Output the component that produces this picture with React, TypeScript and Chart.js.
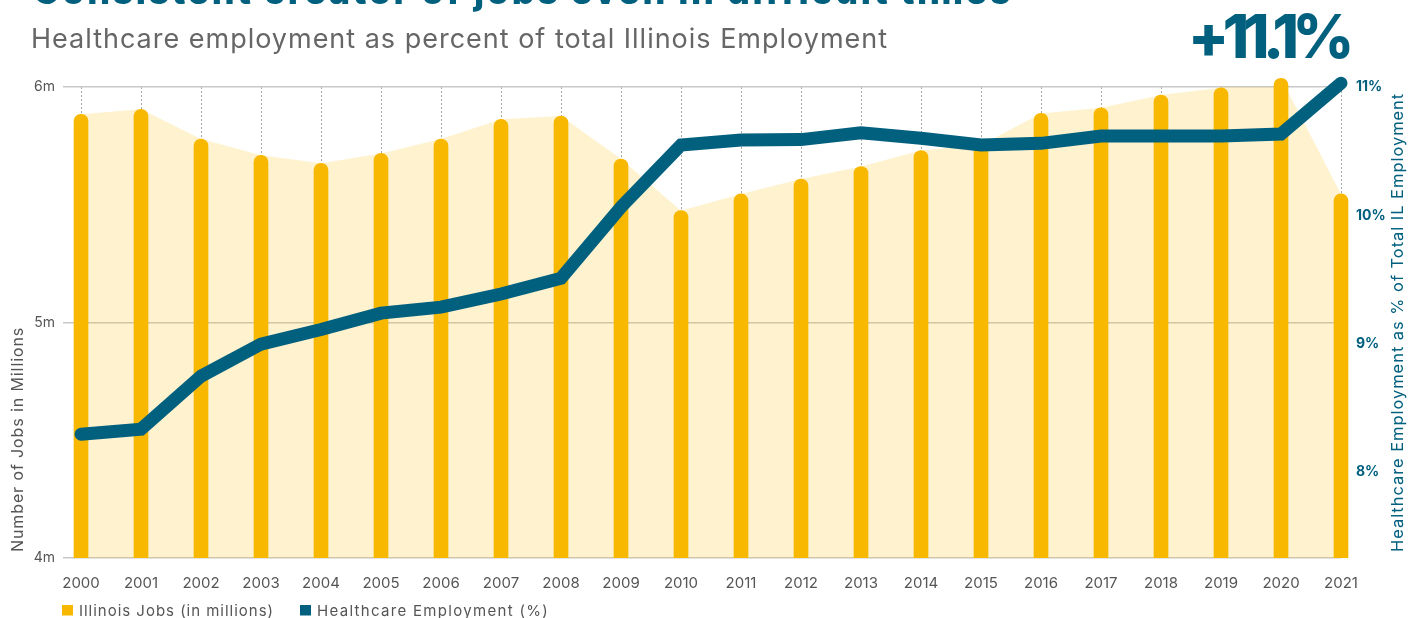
import React, { useEffect, useRef } from "react";
import { Chart, registerables } from "chart.js";

Chart.register(...registerables);

// ---- data ----
const years = [
  "2000", "2001", "2002", "2003", "2004", "2005", "2006", "2007", "2008", "2009", "2010",
  "2011", "2012", "2013", "2014", "2015", "2016", "2017", "2018", "2019", "2020", "2021",
];
const illinoisJobs = [
  5.884, 5.905, 5.779, 5.71, 5.676, 5.718, 5.779, 5.863, 5.877, 5.694, 5.475,
  5.546, 5.609, 5.662, 5.73, 5.754, 5.888, 5.912, 5.966, 5.997, 6.037, 5.546,
];
const healthcareShare = [
  8.295, 8.334, 8.747, 8.997, 9.11, 9.238, 9.285, 9.387, 9.51, 10.065, 10.548,
  10.587, 10.59, 10.644, 10.6, 10.548, 10.561, 10.618, 10.618, 10.618, 10.634, 11.03,
];
const jobsTicks = [4, 5, 6];
const shareTicks = [8, 9, 10, 11];

const TITLE = "Consistent creator of jobs even in difficult times";
const SUBTITLE = "Healthcare employment as percent of total Illinois Employment";
const CALLOUT = "+11.1%";
const LEFT_TITLE = "Number of Jobs in Millions";
const RIGHT_TITLE = "Healthcare Employment as % of Total IL Employment";
const JOBS_LABEL = "Illinois Jobs (in millions)";
const SHARE_LABEL = "Healthcare Employment (%)";

// ---- styles ----
const TEAL = "#02607F";
const YELLOW = "#F9B800";
const AREA = "rgba(249,184,0,0.19)";
const FONT = "Inter, 'Open Sans', sans-serif";

function fitText(
  ctx: CanvasRenderingContext2D,
  text: string,
  x: number,
  y: number,
  font: string,
  color: string,
  width: number,
  rotate = false,
  baseline: CanvasTextBaseline = "alphabetic"
) {
  ctx.save();
  ctx.font = font;
  (ctx as any).letterSpacing = "0px";
  const w = ctx.measureText(text).width;
  const ls = (width - w) / text.length;
  (ctx as any).letterSpacing = ls.toFixed(2) + "px";
  ctx.fillStyle = color;
  ctx.textAlign = "left";
  ctx.textBaseline = baseline;
  ctx.translate(x, y);
  if (rotate) ctx.rotate(-Math.PI / 2);
  ctx.fillText(text, 0, 0);
  ctx.restore();
}

const decorations = {
  id: "decorations",
  afterDraw(chart: any) {
    const ctx: CanvasRenderingContext2D = chart.ctx;
    fitText(ctx, TITLE, 33, 4, `800 36px ${FONT}`, TEAL, 980);
    fitText(ctx, SUBTITLE, 31, 47.5, `400 27px ${FONT}`, "#666666", 857);
    fitText(ctx, CALLOUT, 1188, 58, `800 60px ${FONT}`, TEAL, 160);
    fitText(ctx, LEFT_TITLE, 18, 552, `400 16px ${FONT}`, "#555555", 225, true, "middle");
    fitText(ctx, RIGHT_TITLE, 1398, 552, `400 16.5px ${FONT}`, TEAL, 459, true, "middle");

    // legend
    const ds = chart.data.datasets;
    ctx.save();
    ctx.fillStyle = ds[1].backgroundColor;
    ctx.fillRect(62, 605, 11, 10.5);
    ctx.fillStyle = ds[0].borderColor;
    ctx.fillRect(300, 605, 11, 10.5);
    ctx.restore();
    fitText(ctx, ds[1].label, 79, 615.5, `400 15px ${FONT}`, "#555555", 195);
    fitText(ctx, ds[0].label, 317, 615.5, `400 15px ${FONT}`, "#555555", 232);
  },
};

export default function App() {
  const ref = useRef<HTMLCanvasElement>(null);

  useEffect(() => {
    if (!ref.current) return;
    const chart = new Chart(ref.current, {
      type: "bar",
      data: {
        labels: years,
        datasets: [
          {
            type: "line",
            label: SHARE_LABEL,
            data: healthcareShare,
            yAxisID: "yShare",
            borderColor: TEAL,
            backgroundColor: TEAL,
            borderWidth: 13,
            borderCapStyle: "round",
            borderJoinStyle: "miter",
            pointRadius: 0,
            tension: 0,
            fill: false,
            clip: false,
            order: 0,
          } as any,
          {
            type: "bar",
            label: JOBS_LABEL,
            data: illinoisJobs,
            yAxisID: "yJobs",
            backgroundColor: YELLOW,
            barThickness: 14,
            borderRadius: { topLeft: 7, topRight: 7, bottomLeft: 0, bottomRight: 0 },
            borderSkipped: "start",
            clip: { left: false, top: false, right: false, bottom: 0 },
            order: 1,
          } as any,
          {
            type: "line",
            label: "area",
            data: illinoisJobs,
            yAxisID: "yJobs",
            backgroundColor: AREA,
            borderWidth: 0,
            pointRadius: 0,
            tension: 0,
            fill: "start",
            order: 2,
          } as any,
        ],
      },
      options: {
        animation: false,
        responsive: false,
        layout: { padding: { top: 87, left: 0, right: 0, bottom: 0 } },
        plugins: {
          legend: { display: false },
          tooltip: { enabled: false },
        },
        scales: {
          x: {
            type: "category",
            offset: false,
            grid: { offset: false, color: "#a8a8a8", lineWidth: 1, drawTicks: false, tickLength: 0 },
            border: { display: false, dash: [2, 2] },
            ticks: {
              autoSkip: false,
              maxRotation: 0,
              padding: 16,
              color: "#555555",
              font: { family: FONT, size: 15 },
            },
            afterFit: (s: any) => {
              s.height = 60;
            },
          },
          yJobs: {
            type: "linear",
            position: "left",
            min: 4,
            max: 6,
            afterBuildTicks: (s: any) => {
              s.ticks = jobsTicks.map((v) => ({ value: v }));
            },
            grid: { color: "#c8c8c8", lineWidth: 1.5, tickLength: 18 },
            border: { display: false },
            ticks: {
              padding: 8,
              color: "#555555",
              font: { family: FONT, size: 14 },
              callback: (v: any) => v + "m",
            },
            afterFit: (s: any) => {
              s.width = 81;
            },
          },
          yShare: {
            type: "linear",
            position: "right",
            min: 7.33,
            max: 11,
            afterBuildTicks: (s: any) => {
              s.ticks = shareTicks.map((v) => ({ value: v }));
            },
            grid: { display: false, drawTicks: false, drawOnChartArea: false },
            border: { display: false },
            ticks: {
              padding: 15,
              color: TEAL,
              font: { family: FONT, size: 14, weight: "bold" },
              callback: (v: any) => v + "%",
            },
            afterFit: (s: any) => {
              s.width = 77;
            },
          },
        },
      } as any,
      plugins: [decorations],
    });
    return () => chart.destroy();
  }, []);

  return (
    <div style={{ position: "absolute", left: 0, top: 0, width: 1418, height: 618 }}>
      <canvas ref={ref} width={1418} height={618} style={{ display: "block" }} />
    </div>
  );
}
